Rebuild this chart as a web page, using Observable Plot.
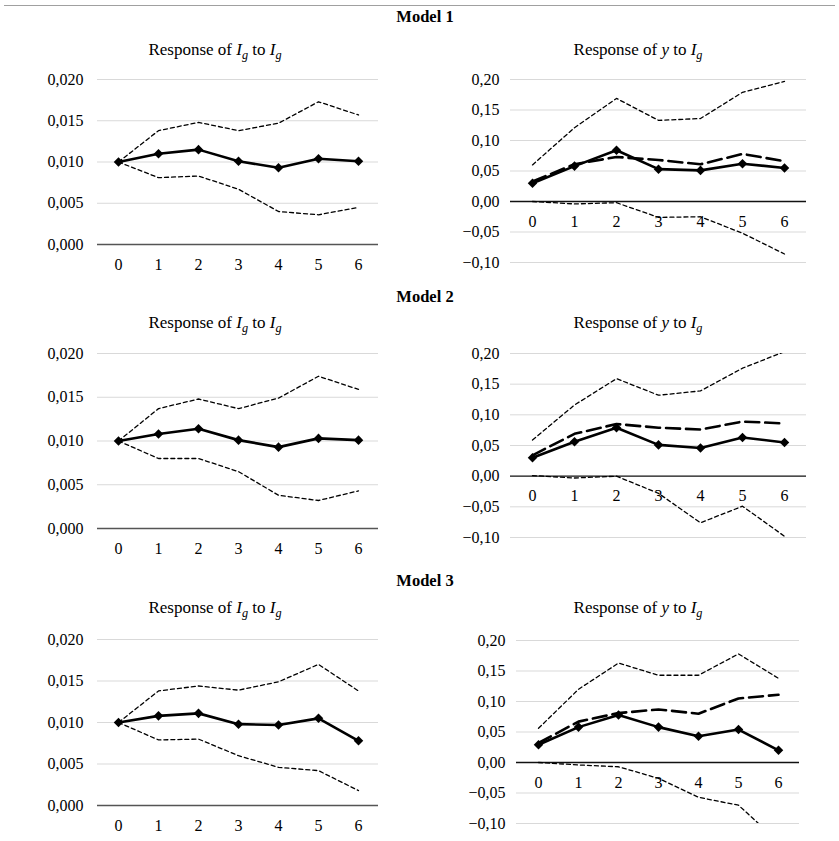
<!DOCTYPE html>
<html><head><meta charset="utf-8">
<script src="https://cdn.jsdelivr.net/npm/d3@7"></script>
<script src="https://cdn.jsdelivr.net/npm/@observablehq/plot@0.6"></script>
<style>
body{margin:0;background:#fff;}
#root{position:relative;width:839px;height:841px;font-family:"Liberation Serif","Times New Roman",serif;color:#000;overflow:hidden;}
.topline{position:absolute;left:4px;right:4px;top:5px;height:0;border-top:1.5px solid #a0a0a0;}
.model{position:absolute;font-weight:bold;font-size:16.5px;transform:translate(-50%,-50%);white-space:nowrap;line-height:1;}
.sub{position:absolute;font-size:17px;transform:translate(-50%,-50%);white-space:nowrap;line-height:1;}
.sub sub{font-size:0.72em;vertical-align:-0.35em;line-height:0;}
.plot{position:absolute;}
svg.plot text{font-family:"Liberation Serif","Times New Roman",serif !important;}
</style></head><body><div id="root"></div>
<script>
// ---- categories / tick labels ----
const horizons = [0, 1, 2, 3, 4, 5, 6];
const leftTicks = [0, 0.005, 0.010, 0.015, 0.020];
const leftTickLabels = ["0,000", "0,005", "0,010", "0,015", "0,020"];
const rightTicks = [-0.10, -0.05, 0, 0.05, 0.10, 0.15, 0.20];
const rightTickLabels = ["−0,10", "−0,05", "0,00", "0,05", "0,10", "0,15", "0,20"];
const modelNames = ["Model 1", "Model 2", "Model 3"];

// ---- Model 1 ----
const m1IgIrf   = [0.0100, 0.0110, 0.0115, 0.0101, 0.0093, 0.0104, 0.0101];
const m1IgUpper = [0.0100, 0.0138, 0.0148, 0.0138, 0.0147, 0.0173, 0.0157];
const m1IgLower = [0.0100, 0.0081, 0.0083, 0.0067, 0.0040, 0.0036, 0.0045];
const m1YIrf    = [0.030, 0.058, 0.084, 0.053, 0.051, 0.062, 0.055];
const m1YAlt    = [0.033, 0.061, 0.073, 0.068, 0.061, 0.078, 0.066];
const m1YUpper  = [0.060, 0.121, 0.169, 0.133, 0.136, 0.179, 0.197];
const m1YLower  = [0.000, -0.004, -0.002, -0.026, -0.025, -0.052, -0.086];

// ---- Model 2 ----
const m2IgIrf   = [0.0100, 0.0108, 0.0114, 0.0101, 0.0093, 0.0103, 0.0101];
const m2IgUpper = [0.0100, 0.0137, 0.0148, 0.0137, 0.0149, 0.0174, 0.0159];
const m2IgLower = [0.0100, 0.0080, 0.0080, 0.0065, 0.0038, 0.0032, 0.0043];
const m2YIrf    = [0.030, 0.056, 0.079, 0.051, 0.046, 0.063, 0.055];
const m2YAlt    = [0.034, 0.069, 0.085, 0.079, 0.076, 0.089, 0.086];
const m2YUpper  = [0.059, 0.116, 0.159, 0.132, 0.139, 0.176, 0.203];
const m2YLower  = [0.001, -0.003, 0.000, -0.028, -0.076, -0.049, -0.098];

// ---- Model 3 ----
const m3IgIrf   = [0.0100, 0.0108, 0.0111, 0.0098, 0.0097, 0.0105, 0.0078];
const m3IgUpper = [0.0100, 0.0138, 0.0144, 0.0139, 0.0149, 0.0170, 0.0138];
const m3IgLower = [0.0100, 0.0079, 0.0080, 0.0060, 0.0046, 0.0042, 0.0018];
const m3YIrf    = [0.029, 0.058, 0.078, 0.058, 0.043, 0.054, 0.020];
const m3YAlt    = [0.032, 0.067, 0.081, 0.087, 0.080, 0.105, 0.111];
const m3YUpper  = [0.056, 0.120, 0.163, 0.143, 0.143, 0.178, 0.138];
const m3YLower  = [0.000, -0.004, -0.007, -0.026, -0.057, -0.070, -0.130];

const FONT = '"Liberation Serif","Times New Roman",serif';
const root = document.getElementById("root");
const tl = document.createElement("div"); tl.className = "topline"; root.appendChild(tl);

function addHTML(cls, html, x, y) {
  const d = document.createElement("div");
  d.className = cls; d.innerHTML = html;
  d.style.left = x + "px"; d.style.top = y + "px";
  root.appendChild(d);
}

const zip = (arr) => horizons.map((h, i) => ({h, v: arr[i]}));

function panel(cfg) {
  const {colStart, colWidth, xL, xR, yTop, yBot, domain, ticks, labels, irf, upper, lower, alt, zeroStroke, tickPad} = cfg;
  const mt = 14, mb = 34;
  const labelMap = new Map(ticks.map((t, i) => [t, labels[i]]));
  const marks = [
    Plot.ruleY(ticks.filter(t => t !== 0), {y: d => d, stroke: "#d9d9d9", strokeWidth: 1}),
    Plot.ruleY([0], {y: d => d, stroke: zeroStroke, strokeWidth: 1.4}),
    Plot.axisY({ticks, label: null, tickSize: 0, tickPadding: tickPad, tickFormat: d => labelMap.get(d), fontSize: 16, fontFamily: FONT, fill: "#000"}),
    Plot.text(horizons, {x: d => d, y: () => 0, dy: 20, text: d => String(d), fontSize: 16, fontFamily: FONT, fill: "#000"}),
    Plot.line(zip(upper), {x: "h", y: "v", stroke: "#000", strokeWidth: 1.3, strokeDasharray: "4,3", clip: true}),
    Plot.line(zip(lower), {x: "h", y: "v", stroke: "#000", strokeWidth: 1.3, strokeDasharray: "4,3", clip: true})
  ];
  if (alt) marks.push(Plot.line(zip(alt), {x: "h", y: "v", stroke: "#000", strokeWidth: 2.6, strokeDasharray: "14,6", clip: true}));
  marks.push(Plot.line(zip(irf), {x: "h", y: "v", stroke: "#000", strokeWidth: 2.6}));
  marks.push(Plot.dot(zip(irf), {x: "h", y: "v", symbol: "diamond2", r: 4.3, fill: "#000", stroke: "none"}));
  const svg = Plot.plot({
    width: colWidth,
    height: (yBot - yTop) + mt + mb,
    marginLeft: xL - colStart,
    marginRight: colStart + colWidth - xR,
    marginTop: mt,
    marginBottom: mb,
    style: {fontFamily: FONT, background: "transparent", overflow: "visible"},
    x: {type: "point", domain: horizons, padding: 0.5, axis: null},
    y: {domain, axis: null, label: null},
    marks
  });
  svg.classList.add("plot");
  svg.style.left = colStart + "px";
  svg.style.top = (yTop - mt) + "px";
  root.appendChild(svg);
}

const sub1 = 'Response of <i>I</i><sub><i>g</i></sub> to <i>I</i><sub><i>g</i></sub>';
const sub2 = 'Response of <i>y</i> to <i>I</i><sub><i>g</i></sub>';

const rows = [
  {model: modelNames[0], my: 17, sy: 49,
   L: {yTop: 79, yBot: 244, xL: 97, xR: 378, irf: m1IgIrf, upper: m1IgUpper, lower: m1IgLower},
   R: {yTop: 79, yBot: 262, xL: 510, xR: 806, irf: m1YIrf, upper: m1YUpper, lower: m1YLower, alt: m1YAlt}},
  {model: modelNames[1], my: 297, sy: 322,
   L: {yTop: 353, yBot: 528, xL: 97, xR: 378, irf: m2IgIrf, upper: m2IgUpper, lower: m2IgLower},
   R: {yTop: 353, yBot: 537, xL: 510, xR: 806, irf: m2YIrf, upper: m2YUpper, lower: m2YLower, alt: m2YAlt}},
  {model: modelNames[2], my: 581, sy: 607,
   L: {yTop: 639, yBot: 805, xL: 97, xR: 378, irf: m3IgIrf, upper: m3IgUpper, lower: m3IgLower},
   R: {yTop: 640, yBot: 823, xL: 516, xR: 799, irf: m3YIrf, upper: m3YUpper, lower: m3YLower, alt: m3YAlt}}
];

for (const r of rows) {
  addHTML("model", r.model, 425, r.my);
  addHTML("sub", sub1, 215, r.sy);
  addHTML("sub", sub2, 638, r.sy);
  panel({colStart: 0, colWidth: 420, domain: [0, 0.02], ticks: leftTicks, labels: leftTickLabels, zeroStroke: "#555", tickPad: 14, ...r.L});
  panel({colStart: 420, colWidth: 419, domain: [-0.10, 0.20], ticks: rightTicks, labels: rightTickLabels, zeroStroke: "#111", tickPad: 11, ...r.R});
}
</script></body></html>
